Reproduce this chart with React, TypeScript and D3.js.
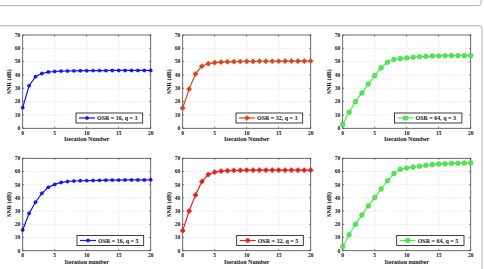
import React from "react";
import * as d3 from "d3";

const iterations = d3.range(0, 21);

const snr16q3 = [15.5, 32, 38.7, 41.1, 42.2, 42.6, 42.9, 43.0, 43.1, 43.2, 43.2, 43.3, 43.3, 43.3, 43.4, 43.4, 43.4, 43.4, 43.4, 43.4, 43.4];
const snr32q3 = [15.2, 29.4, 40.8, 46.6, 48.5, 49.3, 49.7, 49.9, 50.0, 50.1, 50.2, 50.2, 50.3, 50.3, 50.3, 50.3, 50.4, 50.4, 50.4, 50.4, 50.4];
const snr64q3 = [2.8, 12, 20, 26.5, 33.2, 39.6, 45.3, 49.6, 51.6, 52.3, 52.8, 53.3, 53.7, 54.0, 54.2, 54.3, 54.4, 54.5, 54.5, 54.5, 54.6];
const snr16q5 = [15.7, 28.3, 36.7, 43.5, 48, 50.2, 51.7, 52.4, 52.8, 53.0, 53.1, 53.2, 53.3, 53.4, 53.5, 53.5, 53.6, 53.6, 53.6, 53.6, 53.7];
const snr32q5 = [15.2, 30, 42.2, 52.4, 57.7, 59.5, 60.3, 60.6, 60.8, 60.9, 61.0, 61.0, 61.0, 61.0, 61.0, 61.0, 61.0, 61.0, 61.0, 61.0, 61.0];
const snr64q5 = [3, 12.1, 20, 27, 33.9, 40.2, 46.7, 53, 58.4, 61.7, 62.6, 63.3, 64.0, 64.7, 65.2, 65.6, 65.9, 66.1, 66.3, 66.4, 66.5];

const xTicks = [0, 5, 10, 15, 20];
const yTicks = [0, 10, 20, 30, 40, 50, 60, 70];

const legendLabels = [
  "OSR = 16, q = 3",
  "OSR = 32, q = 3",
  "OSR = 64, q = 3",
  "OSR = 16, q = 5",
  "OSR = 32, q = 5",
  "OSR = 64, q = 5",
];
const xLabels = [
  "Iteration Number",
  "Iteration Number",
  "Iteration Number",
  "Iteration number",
  "Iteration Number",
  "Iteration number",
];
const yLabel = "SNR (dB)";

const seriesList = [snr16q3, snr32q3, snr64q3, snr16q5, snr32q5, snr64q5];
const colors = ["#1414f0", "#d8461c", "#4cf04c", "#1414f0", "#ea2018", "#4cf04c"];
const markerTypes = ["dot", "diamond", "circle", "dot", "diamond", "circle"];

const FONT = "'Liberation Serif', 'Times New Roman', serif";

type PanelProps = {
  idx: number;
  left: number;
  top: number;
  width: number;
  height: number;
  legendX: number;
  legendY: number;
  legendW: number;
};

function Marker({ type, x, y, color }: { type: string; x: number; y: number; color: string }) {
  if (type === "diamond") {
    const s = 2.6;
    return (
      <path
        d={`M${x},${y - s}L${x + s},${y}L${x},${y + s}L${x - s},${y}Z`}
        fill={color}
        stroke={color}
        strokeWidth={0.6}
      />
    );
  }
  if (type === "circle") {
    return <circle cx={x} cy={y} r={2.3} fill={color} stroke="#2fc42f" strokeWidth={0.6} />;
  }
  return <circle cx={x} cy={y} r={1.7} fill={color} stroke={color} strokeWidth={0.4} />;
}

function Panel({ idx, left, top, width, height, legendX, legendY, legendW }: PanelProps) {
  const x = d3.scaleLinear().domain([0, 20]).range([left, left + width]);
  const y = d3.scaleLinear().domain([0, 70]).range([top + height, top]);
  const data = seriesList[idx];
  const color = colors[idx];
  const line = d3
    .line<number>()
    .x((_, i) => x(iterations[i]))
    .y((d) => y(d));
  const legendH = 10;
  return (
    <g>
      {xTicks.slice(1, -1).map((t) => (
        <line key={"gx" + t} x1={x(t)} x2={x(t)} y1={top} y2={top + height} stroke="#c8c8c8" strokeWidth={0.6} strokeDasharray="1,1.5" />
      ))}
      {yTicks.slice(1, -1).map((t) => (
        <line key={"gy" + t} x1={left} x2={left + width} y1={y(t)} y2={y(t)} stroke="#c8c8c8" strokeWidth={0.6} strokeDasharray="1,1.5" />
      ))}
      {xTicks.map((t) => (
        <g key={"tx" + t}>
          <line x1={x(t)} x2={x(t)} y1={top + height} y2={top + height - 1.5} stroke="#333" strokeWidth={0.6} />
          <line x1={x(t)} x2={x(t)} y1={top} y2={top + 1.5} stroke="#333" strokeWidth={0.6} />
          <text x={x(t)} y={top + height + 6.5} textAnchor="middle" fontSize={5.5} fontWeight="bold" fontFamily={FONT} fill="#111">
            {t}
          </text>
        </g>
      ))}
      {yTicks.map((t) => (
        <g key={"ty" + t}>
          <line x1={left} x2={left + 1.5} y1={y(t)} y2={y(t)} stroke="#333" strokeWidth={0.6} />
          <line x1={left + width} x2={left + width - 1.5} y1={y(t)} y2={y(t)} stroke="#333" strokeWidth={0.6} />
          <text x={left - 2.5} y={y(t) + 1.8} textAnchor="end" fontSize={5.5} fontWeight="bold" fontFamily={FONT} fill="#111">
            {t}
          </text>
        </g>
      ))}
      <rect x={left} y={top} width={width} height={height} fill="none" stroke="#444" strokeWidth={0.8} />
      <path d={line(data) || ""} fill="none" stroke={color} strokeWidth={1.2} />
      {data.map((v, i) => (
        <Marker key={i} type={markerTypes[idx]} x={x(iterations[i])} y={y(v)} color={color} />
      ))}
      <rect x={legendX} y={legendY} width={legendW} height={legendH} fill="#fff" stroke="#111" strokeWidth={0.8} />
      <line x1={legendX + 3} x2={legendX + 19} y1={legendY + legendH / 2} y2={legendY + legendH / 2} stroke={color} strokeWidth={1.2} />
      <Marker type={markerTypes[idx]} x={legendX + 11} y={legendY + legendH / 2} color={color} />
      <text x={legendX + 21} y={legendY + legendH / 2 + 2} fontSize={6} fontWeight="bold" fontFamily={FONT} fill="#111">
        {legendLabels[idx]}
      </text>
      <text x={left + width / 2} y={top + height + 13} textAnchor="middle" fontSize={6} fontWeight="bold" fontFamily={FONT} fill="#111">
        {xLabels[idx]}
      </text>
      <text
        transform={`translate(${left - 12},${top + height / 2}) rotate(-90)`}
        textAnchor="middle"
        fontSize={6}
        fontWeight="bold"
        fontFamily={FONT}
        fill="#111"
      >
        {yLabel}
      </text>
    </g>
  );
}

export default function App() {
  const lefts = [22.7, 182.7, 342.7];
  const tops = [35, 158.3];
  const heights = [93.3, 92.4];
  const legendXs = [
    [76, 236, 394.5],
    [77, 236.7, 396.7],
  ];
  const legendYs = [113, 235.5];
  const legendWs = [
    [66.7, 66.7, 67.4],
    [66.7, 66.6, 67.3],
  ];
  const panels: PanelProps[] = [];
  for (let r = 0; r < 2; r++) {
    for (let c = 0; c < 3; c++) {
      panels.push({
        idx: r * 3 + c,
        left: lefts[c],
        top: tops[r],
        width: 128,
        height: heights[r],
        legendX: legendXs[r][c],
        legendY: legendYs[r],
        legendW: legendWs[r][c],
      });
    }
  }
  return (
    <svg
      width={484}
      height={269}
      style={{ position: "absolute", left: 0, top: 0, background: "#fff" }}
    >
      <rect x={-10} y={-20} width={491} height={25.6} rx={3} fill="none" stroke="#a8a8a8" strokeWidth={0.9} />
      <rect x={-10} y={25.7} width={492} height={270} rx={3} fill="none" stroke="#a8a8a8" strokeWidth={0.9} />
      {panels.map((p) => (
        <Panel key={p.idx} {...p} />
      ))}
    </svg>
  );
}
